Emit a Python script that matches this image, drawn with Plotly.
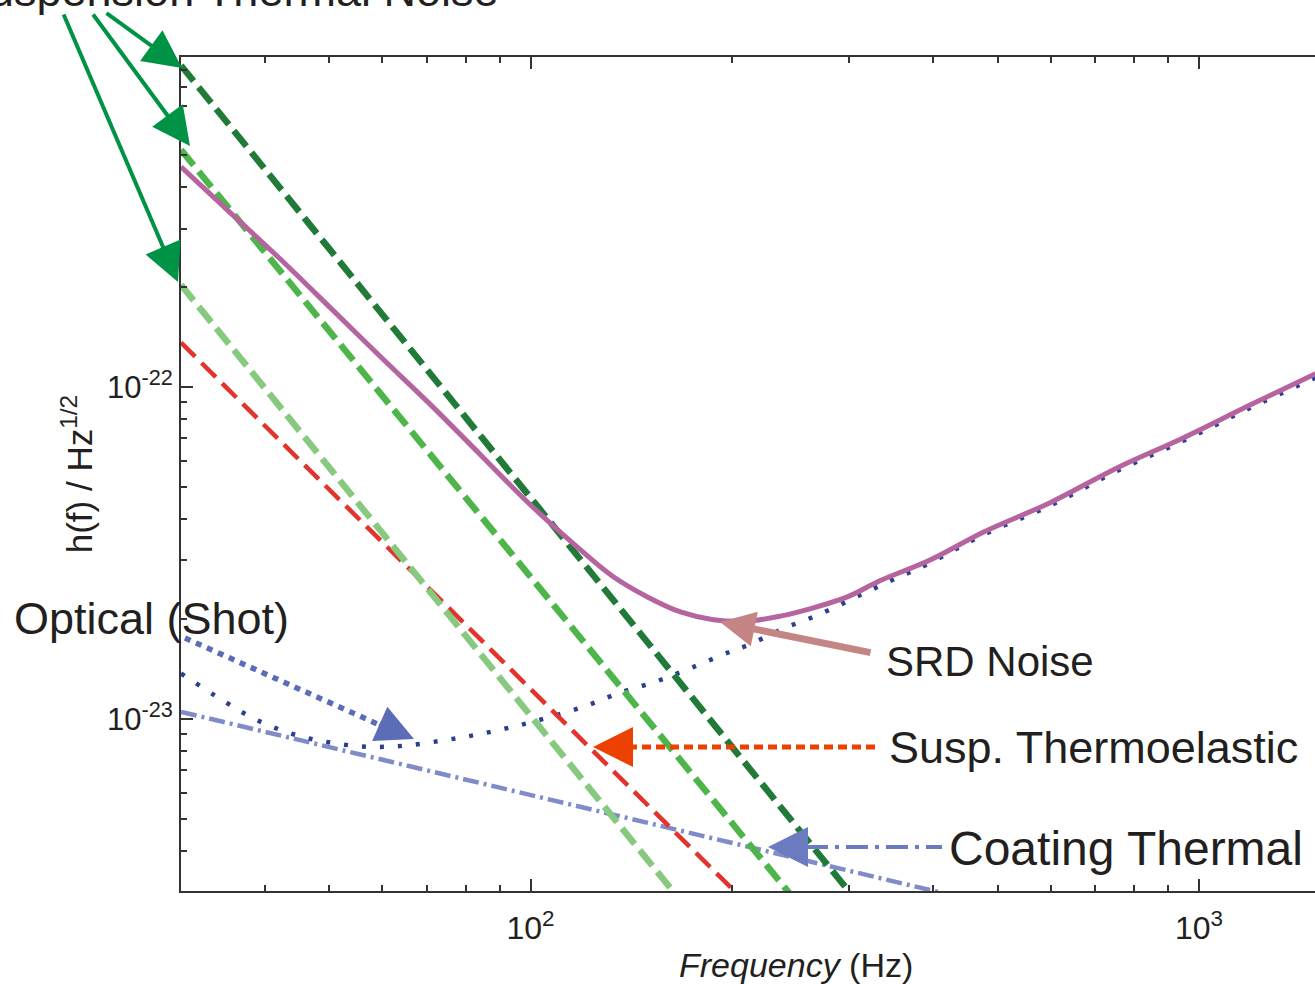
import numpy as np
import plotly.graph_objects as go

# ---------------- data ----------------
# Suspension thermal noise (three configurations)
f_susp_a = [30, 50, 100, 200, 320]
h_susp_a = [9.3e-22, 2.6e-22, 4.64e-23, 8.27e-24, 2.56e-24]

f_susp_b = [30, 50, 100, 150, 200, 260]
h_susp_b = [5.18e-22, 1.474e-22, 2.68e-23, 9.88e-24, 4.87e-24, 2.55e-24]

f_susp_c = [30, 50, 100, 150, 175]
h_susp_c = [2.03e-22, 5.72e-23, 1.025e-23, 3.75e-24, 2.55e-24]

# Suspension thermoelastic
f_thermoel = [30, 50, 100, 150, 220]
h_thermoel = [1.36e-22, 4.9e-23, 1.224e-23, 5.44e-24, 2.55e-24]

# Coating thermal
f_coating = [30, 50, 100, 200, 300, 440]
h_coating = [1.05e-23, 8.22e-24, 5.89e-24, 4.22e-24, 3.48e-24, 2.9e-24]

# Optical (shot) noise
f_shot = [30, 34.8, 39.2, 44.5, 50.4, 57.1, 64.6, 73.4, 82.8, 94.0, 106.4,
          120.4, 136.3, 154.8, 174.7, 198.4, 211.8, 238.9, 271.3, 307.2,
          347.6, 396, 475, 599, 754, 946, 1192, 1500]
h_shot = [1.37e-23, 1.13e-23, 9.86e-24, 8.95e-24, 8.47e-24, 8.24e-24, 8.30e-24,
          8.59e-24, 8.95e-24, 9.46e-24, 1.01e-23, 1.09e-23, 1.20e-23, 1.30e-23,
          1.43e-23, 1.59e-23, 1.67e-23, 1.87e-23, 2.07e-23, 2.33e-23, 2.62e-23,
          2.95e-23, 3.58e-23, 4.39e-23, 5.58e-23, 6.87e-23, 8.64e-23, 1.07e-22]

# SRD total noise
f_srd = [30, 35.6, 42.3, 50.2, 59.7, 70.9, 84.2, 100, 118.8, 133, 149.6, 167.6,
         187.7, 211, 236.5, 265, 297.7, 333.7, 396, 475.5, 598.7, 754, 946.5,
         1192, 1500]
h_srd = [4.60e-22, 3.34e-22, 2.42e-22, 1.73e-22, 1.23e-22, 8.83e-23, 6.24e-23,
         4.41e-23, 3.23e-23, 2.68e-23, 2.33e-23, 2.10e-23, 1.99e-23, 1.97e-23,
         2.04e-23, 2.16e-23, 2.33e-23, 2.61e-23, 3.01e-23, 3.65e-23, 4.48e-23,
         5.70e-23, 7.02e-23, 8.82e-23, 1.10e-22]

x_major = [100, 1000]
x_major_text = ["10<sup>2</sup>", "10<sup>3</sup>"]
x_minor = [30, 40, 50, 60, 70, 80, 90, 200, 300, 400, 500, 600, 700, 800, 900]
y_major = [1e-23, 1e-22]
y_major_text = ["10<sup>-23</sup>", "10<sup>-22</sup>"]
y_minor = [4e-24, 5e-24, 6e-24, 7e-24, 8e-24, 9e-24,
           2e-23, 3e-23, 4e-23, 5e-23, 6e-23, 7e-23, 8e-23, 9e-23,
           2e-22, 3e-22, 4e-22, 5e-22, 6e-22, 7e-22, 8e-22, 9e-22]

# ---------------- figure ----------------
W, H = 1315, 984
L, R, T, B = 181, 0, 57, 93
PW, PH = W - L - R, H - T - B

def px(x):
    return (x - L) / PW

def py(y):
    return (H - B - y) / PH

FONT = "Liberation Sans, Arial, sans-serif"
TXT = "#231f20"

fig = go.Figure()

def add_line(f, h, color, width, dash, shape="linear"):
    fig.add_trace(go.Scatter(x=f, y=h, mode="lines",
                             line=dict(color=color, width=width, dash=dash, shape=shape),
                             hoverinfo="skip"))

add_line(f_coating, h_coating, "#7f8cc8", 4.5, "16px,5px,3px,5px")
add_line(f_shot, h_shot, "#2b3f90", 4.5, "4px,14px", "spline")
add_line(f_thermoel, h_thermoel, "#e2332d", 4.5, "20px,9px")
add_line(f_susp_c, h_susp_c, "#88c980", 6.5, "20px,8px")
add_line(f_susp_b, h_susp_b, "#4db549", 6.5, "20px,8px")
add_line(f_susp_a, h_susp_a, "#217a37", 6.5, "20px,8px")
add_line(f_srd, h_srd, "#b5649f", 5, "solid", "spline")

fig.update_layout(
    width=W, height=H,
    margin=dict(l=L, r=R, t=T, b=B),
    plot_bgcolor="white", paper_bgcolor="white",
    showlegend=False,
    font=dict(family=FONT, color=TXT),
)

fig.update_xaxes(
    type="log", range=[np.log10(30), np.log10(1491)],
    showgrid=False, zeroline=False,
    showline=True, linecolor="#333333", linewidth=2, mirror="ticks",
    ticks="inside", ticklen=12, tickwidth=1.5, tickcolor="#333333",
    tickmode="array", tickvals=x_major, ticktext=x_major_text,
    tickfont=dict(family=FONT, size=32, color=TXT),
    ticklabelstandoff=8,
    minor=dict(ticks="inside", ticklen=6, tickwidth=1.5, tickcolor="#333333",
               tickmode="array", tickvals=x_minor),
)

fig.update_yaxes(
    type="log", range=[np.log10(3.03e-24), np.log10(9.86e-22)],
    showgrid=False, zeroline=False,
    showline=True, linecolor="#333333", linewidth=2, mirror=False,
    ticks="inside", ticklen=12, tickwidth=1.5, tickcolor="#333333",
    tickmode="array", tickvals=y_major, ticktext=y_major_text,
    tickfont=dict(family=FONT, size=31, color=TXT),
    ticklabelstandoff=0,
    minor=dict(ticks="inside", ticklen=6, tickwidth=1.5, tickcolor="#333333",
               tickmode="array", tickvals=y_minor),
    title=dict(text="h(f) / Hz<sup>1/2</sup>", font=dict(family=FONT, size=35, color=TXT),
               standoff=4),
)

# ---------------- annotations ----------------
def text(s, x, y, anchor="left", size=45):
    fig.add_annotation(text=s, xref="paper", yref="paper", x=px(x), y=py(y),
                       xanchor=anchor, yanchor="middle", showarrow=False,
                       font=dict(family=FONT, size=size, color=TXT))

def arrow(tipx, tipy, tailx, taily, color, width, size):
    fig.add_annotation(text="", xref="paper", yref="paper", x=px(tipx), y=py(tipy),
                       ax=tailx - tipx, ay=taily - tipy, axref="pixel", ayref="pixel",
                       showarrow=True, arrowhead=2, arrowsize=size, arrowwidth=width,
                       arrowcolor=color, standoff=0)

def shaft(x0, y0, x1, y1, color, width, dash):
    fig.add_shape(type="line", xref="paper", yref="paper",
                  x0=px(x0), y0=py(y0), x1=px(x1), y1=py(y1),
                  line=dict(color=color, width=width, dash=dash))

# x-axis title (placed as in the reference, right of the plot centre)
text("<i>Frequency</i> (Hz)", 796, 965, anchor="center", size=34)

text("Suspension Thermal Noise", 500, -10, anchor="right")
text("Optical (Shot)", 12, 618)
text("SRD Noise", 884, 662, size=42)
text("Susp. Thermoelastic", 887, 747)
text("Coating Thermal", 947, 848, size=48)

GREEN = "#009245"
arrow(182, 68, 105, 12, GREEN, 4, 1.9)
arrow(190, 146, 92, 13, GREEN, 4, 1.9)
arrow(178, 282, 63, 13, GREEN, 4, 1.9)

arrow(720, 622, 872, 653, "#c58585", 7, 1.0)

shaft(628, 747, 877, 747, "#ec4100", 5, "9px,5px")
arrow(593, 747, 634, 747, "#ec4100", 5, 1.6)

shaft(806, 847, 942, 847, "#6b7bbf", 4, "22px,7px,4px,7px")
arrow(768, 847, 808, 847, "#6b7bbf", 4, 2.0)

shaft(185, 638, 382, 726, "#5a6db6", 5.5, "6px,6px")
arrow(414, 739, 378, 723, "#5a6db6", 5, 1.5)

fig.write_html("out.html",
               config={"displayModeBar": False},
               post_script="document.body.style.margin='0px';"
                           "document.body.style.overflow='hidden';")
